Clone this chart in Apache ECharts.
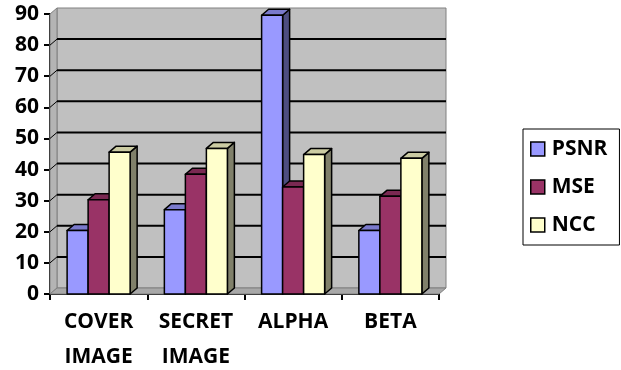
<!DOCTYPE html>
<html>
<head>
<meta charset="utf-8">
<script src="https://cdn.jsdelivr.net/npm/echarts@6/dist/echarts.min.js"></script>
<style>
  html, body { margin: 0; padding: 0; background: #fff; }
  #chart { width: 621px; height: 370px; }
</style>
</head>
<body>
<div id="chart"></div>
<script>
// Chart data
const categories = ['COVER\nIMAGE', 'SECRET\nIMAGE', 'ALPHA', 'BETA'];
const seriesNames = ['PSNR', 'MSE', 'NCC'];
const psnr = [20.4, 27.1, 89.6, 20.4];
const mse = [30.3, 38.5, 34.4, 31.4];
const ncc = [45.6, 46.8, 44.8, 43.6];
const yTicks = [0, 10, 20, 30, 40, 50, 60, 70, 80, 90];

// Styling
const FONT = '"Open Sans"';
const FRONT = ['#9999FF', '#993366', '#FFFFCC'];
const TOP = ['#7A7ACC', '#7A2952', '#CCCCA3'];
const SIDE = ['#4D4D80', '#4D1A33', '#80806A'];
const DX = 7, DY = 6;          // depth offset of the 3D walls and bars
const BAR_FRAC = 0.216;        // bar width as a fraction of the category band

const chart = echarts.init(document.getElementById('chart'));

// Back wall, side wall, floor and gridlines
function renderWalls(params, api) {
  const cs = params.coordSys;
  const x0 = cs.x, x1 = cs.x + cs.width;
  const yTop = cs.y, yBot = cs.y + cs.height;
  const children = [];
  children.push({
    type: 'rect',
    shape: { x: x0 + DX, y: yTop - DY, width: cs.width, height: cs.height },
    style: { fill: '#C0C0C0', stroke: '#808080', lineWidth: 1 }
  });
  children.push({
    type: 'polygon',
    shape: { points: [[x0, yTop], [x0 + DX, yTop - DY], [x0 + DX, yBot - DY], [x0, yBot]] },
    style: { fill: '#B4B4B4', stroke: '#808080', lineWidth: 1 }
  });
  children.push({
    type: 'polygon',
    shape: { points: [[x0, yBot], [x0 + DX, yBot - DY], [x1 + DX, yBot - DY], [x1, yBot]] },
    style: { fill: '#A8A8A8', stroke: '#808080', lineWidth: 1 }
  });
  yTicks.forEach(function (v) {
    if (v === 0 || v === yTicks[yTicks.length - 1]) return;
    const y = api.coord([0, v])[1];
    children.push({
      type: 'line',
      shape: { x1: x0 + DX, y1: y - DY, x2: x1 + DX, y2: y - DY },
      style: { stroke: '#000', lineWidth: 2 }
    });
    children.push({
      type: 'line',
      shape: { x1: x0, y1: y, x2: x0 + DX, y2: y - DY },
      style: { stroke: '#000', lineWidth: 1 }
    });
  });
  return { type: 'group', children: children };
}

// One 3D bar: front face, top face and right side face
function makeBarRenderer(k) {
  return function (params, api) {
    const idx = api.value(0);
    const val = api.value(1);
    const base = api.coord([idx, 0]);
    const top = api.coord([idx, val]);
    const band = api.size([1, 0])[0];
    const bw = band * BAR_FRAC;
    const x = base[0] + (k - 1.5) * bw;
    const ty = top[1], by = base[1];
    const line = { stroke: '#000', lineWidth: 1.5, lineJoin: 'round' };
    return {
      type: 'group',
      children: [
        {
          type: 'polygon',
          shape: { points: [[x + bw, ty], [x + bw + DX, ty - DY], [x + bw + DX, by - DY], [x + bw, by]] },
          style: Object.assign({ fill: SIDE[k] }, line)
        },
        {
          type: 'polygon',
          shape: { points: [[x, ty], [x + DX, ty - DY], [x + bw + DX, ty - DY], [x + bw, ty]] },
          style: Object.assign({ fill: TOP[k] }, line)
        },
        {
          type: 'rect',
          shape: { x: x, y: ty, width: bw, height: by - ty },
          style: Object.assign({ fill: api.visual('color') }, line)
        }
      ]
    };
  };
}

const valueSets = [psnr, mse, ncc];
const barSeries = seriesNames.map(function (name, k) {
  return {
    name: name,
    type: 'custom',
    renderItem: makeBarRenderer(k),
    itemStyle: { color: FRONT[k] },
    encode: { x: 0, y: 1 },
    z: 3 + k,
    data: valueSets[k].map(function (v, i) { return [i, v]; })
  };
});

const labelFont = { color: '#000', fontFamily: FONT, fontWeight: 'bold', fontSize: 21 };

chart.setOption({
  backgroundColor: '#fff',
  animation: false,
  grid: { left: 50, right: 182, top: 14, bottom: 76, containLabel: false, outerBoundsMode: 'none' },
  legend: {
    data: seriesNames,
    orient: 'vertical',
    left: 523,
    top: 129,
    icon: 'rect',
    itemWidth: 14,
    itemHeight: 14,
    itemGap: 14,
    padding: [8, 12, 8, 7],
    borderColor: '#000',
    borderWidth: 1,
    itemStyle: { borderColor: '#000', borderWidth: 1.5 },
    textStyle: Object.assign({ lineHeight: 24, padding: [0, 0, 0, 2] }, labelFont)
  },
  xAxis: {
    type: 'category',
    data: categories,
    axisLine: { lineStyle: { color: '#000', width: 2 } },
    axisTick: { show: true, length: 6, lineStyle: { color: '#000', width: 2 } },
    axisLabel: Object.assign({ lineHeight: 35, margin: 11, interval: 0 }, labelFont),
    splitLine: { show: false }
  },
  yAxis: {
    type: 'value',
    min: 0,
    max: 90,
    interval: 10,
    axisLine: { show: true, lineStyle: { color: '#000', width: 2 } },
    axisTick: { show: true, length: 6, lineStyle: { color: '#000', width: 2 } },
    axisLabel: Object.assign({ margin: 11 }, labelFont),
    splitLine: { show: false }
  },
  series: [
    {
      name: 'walls',
      type: 'custom',
      renderItem: renderWalls,
      silent: true,
      z: 1,
      encode: { x: 0, y: 1 },
      data: [[0, 0]]
    }
  ].concat(barSeries)
});
</script>
</body>
</html>
